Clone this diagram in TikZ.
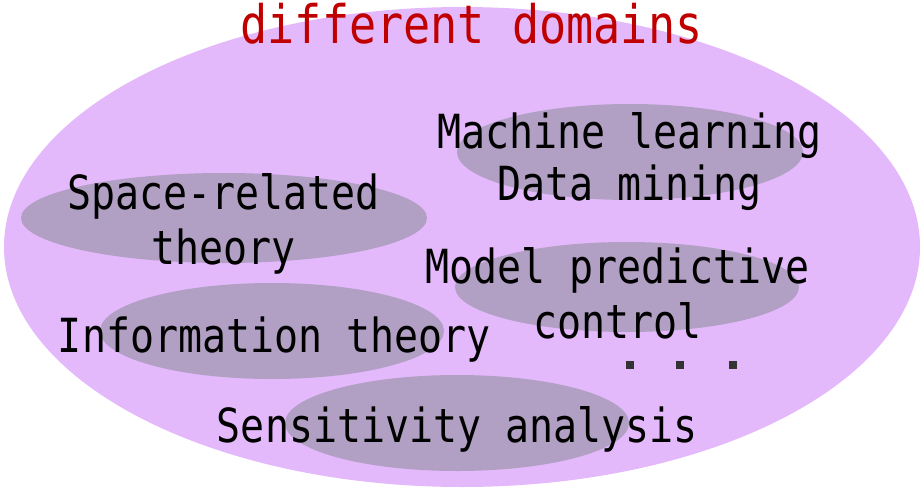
\documentclass[tikz,border=0pt]{standalone}
\usepackage{fontspec}
\usepackage{xcolor}
\newfontfamily\monofont[FakeStretch=0.85]{DejaVu Sans Mono}

\definecolor{lilac}{RGB}{228,185,251}
\definecolor{greyviolet}{RGB}{177,160,196}
\definecolor{titlered}{RGB}{192,0,0}
\definecolor{dotgrey}{RGB}{51,51,51}

\tikzset{
    field/.style={fill=greyviolet, draw=none},
    fieldtext/.style={anchor=base, align=center, text=black,
        font=\monofont\fontsize{26.75pt}{31.3pt}\selectfont},
    dotbox/.style={fill=dotgrey, inner sep=0pt, minimum size=0.16cm}
}

\begin{document}
\begin{tikzpicture}
    \useasboundingbox (0,0) rectangle (18.44,9.8);

    % Outer region
    \fill[lilac] (9.24,4.86) ellipse [x radius=9.16, y radius=4.8];

    % Single fields
    \fill[field] (4.48,5.44) ellipse [x radius=4.06, y radius=0.9];   % space
    \fill[field] (12.6,6.76) ellipse [x radius=3.46, y radius=0.96];  % learning
    \fill[field] (5.44,3.18) ellipse [x radius=3.44, y radius=0.96];  % information
    \fill[field] (12.54,4.06) ellipse [x radius=3.44, y radius=0.9];  % control
    \fill[field] (9.14,1.34) ellipse [x radius=3.44, y radius=0.96];  % sensitivity

    % Title
    \node[anchor=base, text=titlered, font=\monofont\fontsize{30.2pt}{34pt}\selectfont]
        (title) at (9.43,8.94) {different domains};

    % Field names (base = last line)
    \node[fieldtext] (space) at (4.47,4.52) {Space-related\\theory};
    \node[fieldtext] (learning) at (12.59,5.8) {Machine learning\\[-0.06cm]Data mining};
    \node[fieldtext] (mpc) at (12.35,3.04) {Model predictive\\control};
    \node[fieldtext] (info) at (5.49,2.76) {Information theory};
    \node[fieldtext] (sens) at (9.15,0.96) {Sensitivity analysis};

    % More to come
    \node[dotbox] (dotA) at (12.6,2.5) {};
    \node[dotbox] (dotB) at (13.6,2.5) {};
    \node[dotbox] (dotC) at (14.66,2.5) {};
\end{tikzpicture}
\end{document}
